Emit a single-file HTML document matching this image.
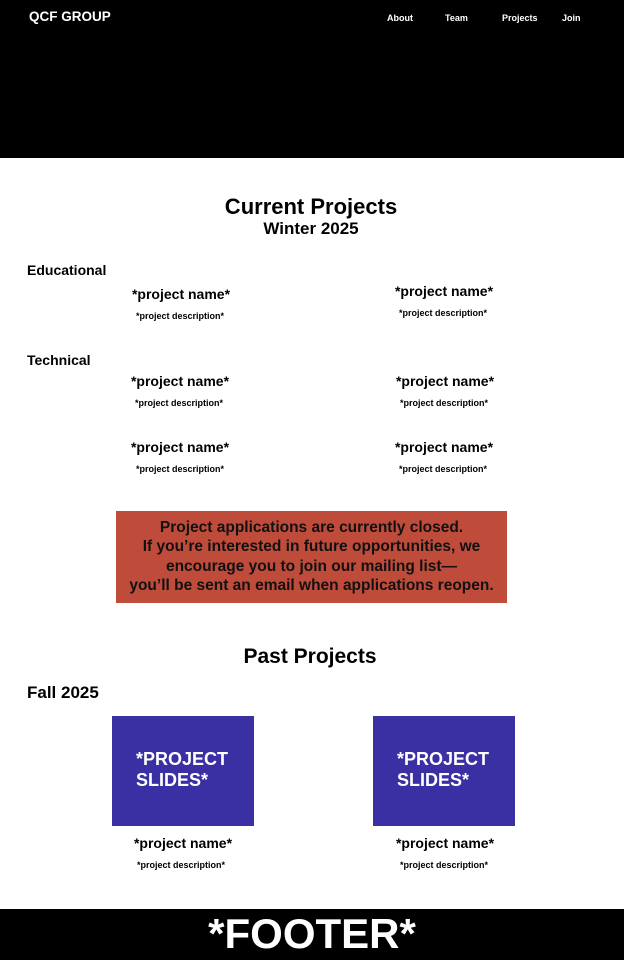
<!DOCTYPE html>
<html><head><meta charset="utf-8"><style>
*{margin:0;padding:0;box-sizing:border-box}
body{width:624px;height:960px;position:relative;background:#fff;font-family:"Liberation Sans",Arial,sans-serif;color:#000;overflow:hidden}
.a{position:absolute;white-space:nowrap;font-weight:bold}
.c{transform:translateX(-50%)}
.pn{font-size:14px}
.pd{font-size:9px}
</style></head><body>
<div style="position:absolute;left:0;top:0;width:624px;height:158px;background:#000"></div>
<div class="a" style="left:29px;top:9px;font-size:13.5px;color:#fff">QCF GROUP</div>
<div class="a" style="left:387px;top:13px;font-size:9px;color:#fff">About</div>
<div class="a" style="left:445px;top:13px;font-size:9px;color:#fff">Team</div>
<div class="a" style="left:502px;top:13px;font-size:9px;color:#fff">Projects</div>
<div class="a" style="left:562px;top:13px;font-size:9px;color:#fff">Join</div>

<div class="a c" style="left:311px;top:194px;font-size:22px">Current Projects</div>
<div class="a c" style="left:311px;top:219px;font-size:17px">Winter 2025</div>

<div class="a" style="left:27px;top:262px;font-size:14px">Educational</div>
<div class="a c pn" style="left:181px;top:286px">*project name*</div>
<div class="a c pd" style="left:180px;top:311px">*project description*</div>
<div class="a c pn" style="left:444px;top:283px">*project name*</div>
<div class="a c pd" style="left:443px;top:308px">*project description*</div>

<div class="a" style="left:27px;top:352px;font-size:14px">Technical</div>
<div class="a c pn" style="left:180px;top:373px">*project name*</div>
<div class="a c pd" style="left:179px;top:398px">*project description*</div>
<div class="a c pn" style="left:445px;top:373px">*project name*</div>
<div class="a c pd" style="left:444px;top:398px">*project description*</div>
<div class="a c pn" style="left:180px;top:439px">*project name*</div>
<div class="a c pd" style="left:180px;top:464px">*project description*</div>
<div class="a c pn" style="left:444px;top:439px">*project name*</div>
<div class="a c pd" style="left:443px;top:464px">*project description*</div>

<div style="position:absolute;left:116px;top:511px;width:391px;height:92px;background:#bf4b3a;text-align:center;font-weight:bold;font-size:15.5px;line-height:19.3px;padding-top:7px;color:#111;white-space:nowrap">Project applications are currently closed.<br>If you’re interested in future opportunities, we<br>encourage you to join our mailing list—<br>you’ll be sent an email when applications reopen.</div>

<div class="a c" style="left:310px;top:645px;font-size:21px">Past Projects</div>
<div class="a" style="left:27px;top:683px;font-size:17px">Fall 2025</div>

<div style="position:absolute;left:112px;top:716px;width:142px;height:110px;background:#3a2fa3"></div>
<div class="a" style="left:136px;top:749px;font-size:18px;line-height:21px;color:#fff">*PROJECT<br>SLIDES*</div>
<div style="position:absolute;left:373px;top:716px;width:142px;height:110px;background:#3a2fa3"></div>
<div class="a" style="left:397px;top:749px;font-size:18px;line-height:21px;color:#fff">*PROJECT<br>SLIDES*</div>

<div class="a c pn" style="left:183px;top:835px">*project name*</div>
<div class="a c pd" style="left:181px;top:860px">*project description*</div>
<div class="a c pn" style="left:445px;top:835px">*project name*</div>
<div class="a c pd" style="left:444px;top:860px">*project description*</div>

<div style="position:absolute;left:0;top:909px;width:624px;height:51px;background:#000"></div>
<div class="a c" style="left:312px;top:911px;font-size:42px;line-height:46px;color:#fff">*FOOTER*</div>
</body></html>
